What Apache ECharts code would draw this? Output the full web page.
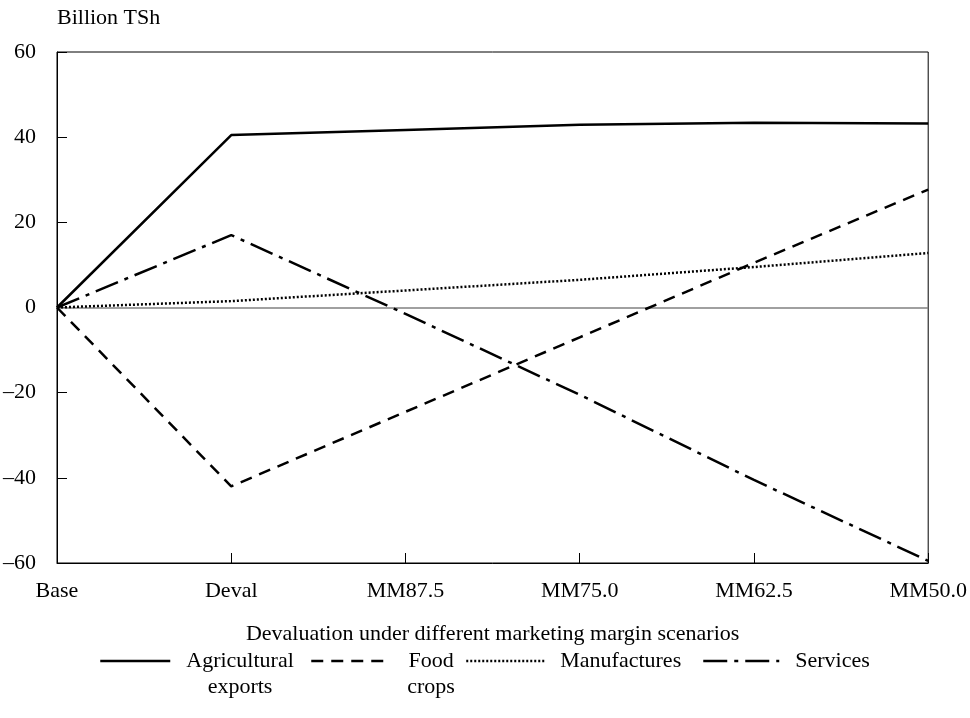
<!DOCTYPE html>
<html>
<head>
<meta charset="utf-8">
<script src="https://cdn.jsdelivr.net/npm/echarts@6/dist/echarts.min.js"></script>
<style>html,body{margin:0;padding:0;background:#fff}#c{width:970px;height:718px}</style>
</head>
<body>
<div id="c"></div>
<script>
var categories = ['Base', 'Deval', 'MM87.5', 'MM75.0', 'MM62.5', 'MM50.0'];
var agriculturalExports = [0, 40.5, 41.7, 42.9, 43.4, 43.2];
var foodCrops = [0, -42, -24.5, -7, 10.5, 27.7];
var manufactures = [0, 1.5, 4, 6.5, 9.5, 12.8];
var services = [0, 17, -1.5, -20.5, -40.5, -59.5];
var seriesNames = ['Agricultural exports', 'Food crops', 'Manufactures', 'Services'];
var legendLabels = ['Agricultural\nexports', 'Food\ncrops', 'Manufactures', 'Services'];
var yTicks = { min: -60, max: 60, interval: 20 };
var xAxisTitle = 'Devaluation under different marketing margin scenarios';
var yAxisTitle = 'Billion TSh';

var FONT = '"Liberation Serif", "DejaVu Serif", serif';
var FS = 22;
var dashStyles = ['solid', [12, 8], [2, 2], [24, 7, 4, 7]];
var seriesData = [agriculturalExports, foodCrops, manufactures, services];

var series = seriesData.map(function (d, i) {
  var s = {
    name: seriesNames[i],
    type: 'line',
    data: d,
    symbol: 'none',
    z: 3,
    lineStyle: { color: '#000', width: 2.5, type: dashStyles[i] },
    itemStyle: { color: '#000' }
  };
  if (i === 0) {
    s.markLine = {
      silent: true,
      symbol: 'none',
      label: { show: false },
      lineStyle: { color: '#808080', width: 1.5, type: 'solid' },
      data: [{ yAxis: 0 }],
      z: 1
    };
  }
  return s;
});

var legendLefts = [99, 310, 465, 702];
var legendWidths = [70, 80, 78, 76];
var LH = 26;
var legends = seriesNames.map(function (n, i) {
  var multi = legendLabels[i].indexOf('\n') >= 0;
  return {
    left: legendLefts[i],
    top: 650,
    padding: 0,
    itemWidth: legendWidths[i],
    itemHeight: 14,
    selectedMode: false,
    itemStyle: { color: 'rgba(0,0,0,0)', borderColor: 'rgba(0,0,0,0)', borderWidth: 0, opacity: 0 },
    lineStyle: { width: 2.5 },
    data: [{ name: n }],
    formatter: function () {
      return legendLabels[i].split('\n').map(function (t) { return '{c|' + t + '}'; }).join('\n');
    },
    textStyle: {
      fontFamily: FONT,
      fontSize: FS,
      color: '#000',
      padding: multi ? [LH, 0, 0, 11] : [0, 0, 0, 11],
      rich: { c: { fontFamily: FONT, fontSize: FS, color: '#000', align: 'center', lineHeight: LH } }
    }
  };
});

var chart = echarts.init(document.getElementById('c'), null, { renderer: 'canvas' });
chart.setOption({
  backgroundColor: '#fff',
  animation: false,
  grid: { left: 57, right: 39, top: 52, bottom: 155, show: true, borderColor: '#000', borderWidth: 1, backgroundColor: 'transparent' },
  legend: legends,
  xAxis: {
    type: 'category',
    data: categories,
    boundaryGap: false,
    name: xAxisTitle,
    nameLocation: 'middle',
    nameGap: 60,
    nameTextStyle: { fontFamily: FONT, fontSize: FS, color: '#000' },
    axisLine: { onZero: false, lineStyle: { color: '#000', width: 1 } },
    axisTick: { inside: true, length: 10, lineStyle: { color: '#000' } },
    axisLabel: { fontFamily: FONT, fontSize: FS, color: '#000', margin: 17 },
    splitLine: { show: false }
  },
  yAxis: {
    type: 'value',
    min: yTicks.min,
    max: yTicks.max,
    interval: yTicks.interval,
    name: yAxisTitle,
    nameLocation: 'end',
    nameGap: 23,
    nameTextStyle: { fontFamily: FONT, fontSize: FS, color: '#000', align: 'left' },
    axisLine: { show: true, lineStyle: { color: '#000', width: 1 } },
    axisTick: { show: true, inside: true, length: 10, lineStyle: { color: '#000' } },
    axisLabel: {
      fontFamily: FONT, fontSize: FS, color: '#000', margin: 21,
      formatter: function (v) { return String(v).replace('-', '\u2013'); }
    },
    splitLine: { show: false }
  },
  series: series
});
</script>
</body>
</html>
